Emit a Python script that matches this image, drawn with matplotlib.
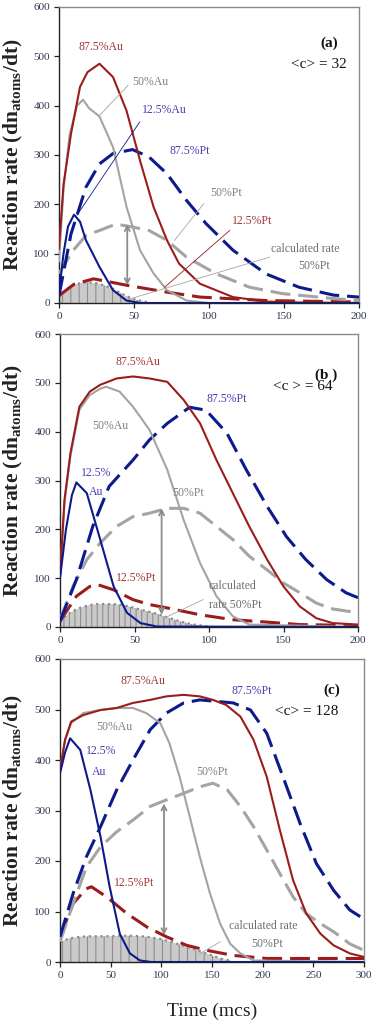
import matplotlib
matplotlib.use("Agg")
import matplotlib.pyplot as plt

plt.rcParams['font.family'] = ['Liberation Serif', 'DejaVu Serif']
plt.rcParams['hatch.linewidth'] = 0.8
plt.rcParams['mathtext.fontset'] = 'custom'
plt.rcParams['mathtext.rm'] = 'Liberation Serif'
plt.rcParams['mathtext.bf'] = 'Liberation Serif:bold'

# ---------------- panel (a) ----------------
a_au875_t = [0, 3, 8, 14, 19, 27, 36, 45, 54, 63, 72, 80, 94, 116, 138, 160, 200]
a_au875 = [110, 240, 343, 438, 468, 485, 458, 390, 289, 195, 127, 80, 39, 12, 3, 1, 0]
a_au50_t = [0, 3, 7, 12, 16, 20, 27, 36, 45, 54, 63, 72, 85, 100, 200]
a_au50 = [85, 230, 340, 400, 412, 395, 378, 316, 195, 107, 60, 26, 5, 0, 0]
a_au125_t = [0, 3, 6, 10, 14, 18, 27, 36, 45, 54, 200]
a_au125 = [20, 100, 155, 179, 165, 127, 73, 26, 5, 0, 0]
a_pt875_t = [0, 8, 18, 27, 36, 49, 60, 72, 85, 98, 116, 138, 160, 183, 200]
a_pt875 = [15, 140, 235, 282, 303, 311, 296, 262, 208, 161, 107, 59, 32, 16, 12]
a_pt50_t = [0, 9, 18, 27, 38, 49, 60, 72, 85, 105, 127, 149, 183, 200]
a_pt50 = [60, 105, 137, 147, 160, 154, 147, 127, 93, 59, 32, 19, 9, 5]
a_pt125_t = [0, 10, 23, 35, 45, 72, 94, 138, 200]
a_pt125 = [15, 38, 49, 42, 36, 22, 12, 5, 2]
a_calc_t = [0, 5, 10, 15, 20, 25, 30, 35, 40, 45, 50, 55, 60]
a_calc = [12, 28, 37, 41, 42, 40, 36, 30, 22, 14, 8, 4, 1]

# ---------------- panel (b) ----------------
b_au875_t = [0, 3, 7, 13, 20, 27, 38, 49, 60, 72, 83, 94, 105, 116, 127, 139, 150, 161, 172, 183, 200]
b_au875 = [104, 260, 356, 451, 482, 496, 509, 513, 509, 502, 465, 417, 342, 274, 206, 138, 83, 42, 18, 8, 5]
b_au50_t = [0, 3, 7, 13, 20, 27, 31, 40, 49, 60, 72, 83, 94, 105, 116, 127, 200]
b_au50 = [104, 255, 350, 445, 475, 488, 492, 482, 451, 404, 322, 219, 131, 63, 22, 5, 0]
b_au125_t = [0, 4, 8, 11, 18, 27, 36, 45, 54, 65, 200]
b_au125 = [100, 200, 270, 296, 274, 179, 83, 29, 8, 1, 0]
b_pt875_t = [0, 11, 22, 33, 49, 60, 72, 87, 98, 112, 125, 139, 152, 165, 179, 192, 200]
b_pt875 = [12, 97, 206, 288, 342, 383, 417, 450, 444, 397, 322, 247, 185, 138, 97, 70, 60]
b_pt50_t = [0, 9, 18, 27, 38, 49, 60, 72, 83, 94, 105, 116, 127, 139, 150, 161, 172, 183, 200]
b_pt50 = [15, 85, 138, 172, 206, 226, 233, 243, 243, 233, 206, 179, 145, 117, 90, 70, 49, 37, 29]
b_pt125_t = [0, 11, 20, 25, 36, 49, 60, 72, 94, 116, 139, 161, 200]
b_pt125 = [12, 63, 83, 87, 76, 56, 46, 39, 25, 15, 10, 5, 3]
b_calc_t = [0, 5, 10, 15, 20, 25, 30, 35, 40, 45, 50, 55, 60, 65, 70, 75, 80, 85, 90, 95, 100]
b_calc = [11, 26, 35, 41, 45, 47, 47, 47, 46, 43, 39, 35, 31, 27, 22, 17, 12, 8, 5, 3, 1]

# ---------------- panel (c) ----------------
c_au875_t = [0, 5, 11, 23, 40, 56, 72, 89, 105, 122, 138, 151, 164, 178, 191, 204, 217, 230, 243, 257, 270, 286, 300]
c_au875 = [380, 440, 476, 489, 499, 503, 513, 519, 526, 529, 526, 519, 509, 486, 440, 367, 261, 162, 96, 56, 33, 17, 10]
c_au50_t = [0, 5, 11, 23, 40, 56, 72, 85, 99, 108, 118, 128, 138, 148, 158, 168, 178, 191, 300]
c_au50 = [380, 440, 473, 493, 499, 503, 503, 493, 473, 433, 367, 288, 208, 136, 76, 36, 17, 3, 0]
c_au125_t = [0, 5, 10, 20, 30, 40, 49, 59, 69, 79, 90, 300]
c_au125 = [374, 415, 443, 420, 341, 248, 149, 56, 17, 3, 0, 0]
c_pt875_t = [0, 13, 26, 40, 56, 72, 89, 105, 122, 138, 155, 171, 188, 204, 220, 237, 253, 270, 286, 300]
c_pt875 = [50, 136, 208, 268, 341, 400, 460, 493, 513, 519, 516, 513, 499, 453, 367, 274, 195, 142, 103, 85]
c_pt50_t = [0, 13, 26, 40, 56, 72, 89, 105, 122, 138, 151, 165, 178, 191, 204, 217, 230, 243, 257, 270, 286, 300]
c_pt50 = [40, 116, 188, 228, 258, 281, 308, 321, 334, 347, 354, 341, 308, 268, 222, 175, 129, 96, 76, 60, 36, 23]
c_pt125_t = [0, 13, 26, 31, 46, 66, 86, 105, 125, 145, 171, 204, 300]
c_pt125 = [50, 116, 145, 149, 129, 96, 69, 50, 33, 23, 13, 7, 7]
c_calc_t = [0, 10, 20, 30, 40, 50, 60, 70, 80, 90, 100, 110, 120, 130, 140, 150, 160, 170]
c_calc = [40, 47, 50, 51, 51, 51, 52, 52, 51, 49, 45, 40, 33, 27, 20, 13, 6, 2]

y_ticks = [0, 100, 200, 300, 400, 500, 600]
x_ticks_ab = [0, 50, 100, 150, 200]
x_ticks_c = [0, 50, 100, 150, 200, 250, 300]

RED = '#9b1c1c'
BLUE = '#0c1a8c'
GRAY = '#a4a4a4'
RED_T = '#a33434'
BLUE_T = '#4b3bb0'
GRAY_T = '#808080'
TICK_C = '#2e3852'

fig = plt.figure(figsize=(3.74, 10.24), dpi=100)

W = 374.0
H = 1024.0


def make_ax(l, r, top, bot):
    return fig.add_axes([l / W, 1 - bot / H, (r - l) / W, (bot - top) / H])


axa = make_ax(59, 359, 7, 303)
axb = make_ax(60, 358, 334, 627)
axc = make_ax(60, 364, 659, 962)

DASH = (6.5, 2.6)


def draw(ax, d, xmax, xticks, hatch, left_px):
    (au875_t, au875, au50_t, au50, au125_t, au125,
     pt875_t, pt875, pt50_t, pt50, pt125_t, pt125, calc_t, calc) = d
    ax.fill_between(calc_t, 0, calc, facecolor='#cacaca', edgecolor='#8e8e8e',
                    hatch=hatch, linewidth=0, zorder=1)
    ax.plot(calc_t, calc, color='#8e8e8e', ls=':', lw=1.6, zorder=2)
    ax.plot(pt125_t, pt125, color=RED, lw=2.2, dashes=DASH, zorder=3)
    ax.plot(pt50_t, pt50, color=GRAY, lw=2.2, dashes=DASH, zorder=3)
    ax.plot(pt875_t, pt875, color=BLUE, lw=2.2, dashes=DASH, zorder=3)
    ax.plot(au50_t, au50, color=GRAY, lw=1.5, zorder=4)
    ax.plot(au875_t, au875, color=RED, lw=1.5, zorder=4)
    ax.plot(au125_t, au125, color=BLUE, lw=1.5, zorder=5)

    ax.set_xlim(0, xmax)
    ax.set_ylim(0, 600)
    ax.set_xticks(xticks)
    ax.set_yticks(y_ticks)
    ax.tick_params(axis='both', direction='out', length=3.5, width=0.9,
                   labelsize=8, labelcolor=TICK_C, color='#222222')
    ax.tick_params(axis='y', pad=3)
    ax.tick_params(axis='x', pad=3)
    for s in ['top', 'right']:
        ax.spines[s].set_color('#8a8a8a')
        ax.spines[s].set_linewidth(1.0)
    for s in ['left', 'bottom']:
        ax.spines[s].set_color('#222222')
        ax.spines[s].set_linewidth(1.0)
    ax.set_ylabel(r'Reaction rate (dn$_{\mathbf{atoms}}$/dt)', fontsize=15.5,
                  fontweight='bold', color='#222222', va='center')
    width_px = ax.get_position().width * W
    ax.yaxis.set_label_coords((13.5 - left_px) / width_px, 0.5)


draw(axa, (a_au875_t, a_au875, a_au50_t, a_au50, a_au125_t, a_au125,
           a_pt875_t, a_pt875, a_pt50_t, a_pt50, a_pt125_t, a_pt125,
           a_calc_t, a_calc), 200, x_ticks_ab, '||', 59)
draw(axb, (b_au875_t, b_au875, b_au50_t, b_au50, b_au125_t, b_au125,
           b_pt875_t, b_pt875, b_pt50_t, b_pt50, b_pt125_t, b_pt125,
           b_calc_t, b_calc), 200, x_ticks_ab, '|||', 60)
draw(axc, (c_au875_t, c_au875, c_au50_t, c_au50, c_au125_t, c_au125,
           c_pt875_t, c_pt875, c_pt50_t, c_pt50, c_pt125_t, c_pt125,
           c_calc_t, c_calc), 300, x_ticks_c, '||', 60)

axc.set_xlabel('Time (mcs)', fontsize=14, color='#222222', va='top')
axc.xaxis.set_label_coords(0.5, -0.135)

LFS = 8.5


def lab(ax, x, y, s, c, fs=LFS, **kw):
    ax.text(x, y, s, color=c, fontsize=fs, ha='center', va='center', zorder=6, **kw)


def leader(ax, x0, y0, x1, y1, c):
    ax.plot([x0, x1], [y0, y1], color=c, lw=0.6, zorder=6)


def arrow(ax, x, lo, hi):
    ax.annotate('', xy=(x, hi), xytext=(x, lo),
                arrowprops=dict(arrowstyle='<->', color='#8c8c8c', lw=1.3,
                                mutation_scale=9, shrinkA=0, shrinkB=0), zorder=6)


# panel (a) annotations
lab(axa, 28, 519, '87.5%Au', RED_T)
lab(axa, 61, 448, '50%Au', GRAY_T)
lab(axa, 70.4, 392, '12.5%Au', BLUE_T)
lab(axa, 87.3, 309, '87.5%Pt', BLUE_T)
lab(axa, 111.6, 223, '50%Pt', GRAY_T)
lab(axa, 129, 166, '12.5%Pt', RED_T)
lab(axa, 164, 110, 'calculated rate', '#6e6e6e')
lab(axa, 170, 75, '50%Pt', '#6e6e6e')
lab(axa, 180, 526, '(a)', '#111111', fs=11, fontweight='bold')
lab(axa, 173, 483, '<c> = 32', '#111111', fs=11)
leader(axa, 46, 441, 27, 380, GRAY)
leader(axa, 53.8, 367, 12, 178, BLUE)
leader(axa, 96.4, 201, 77, 127, GRAY)
leader(axa, 113.8, 147, 70.4, 32, RED)
leader(axa, 140.4, 93, 48, 9, GRAY)
arrow(axa, 45.5, 36, 160)

# panel (b) annotations
lab(axb, 52.5, 543, '87.5%Au', RED_T)
lab(axb, 178.8, 516, '(b )', '#111111', fs=11, fontweight='bold')
lab(axb, 163, 492, '<c > = 64', '#111111', fs=11)
lab(axb, 111.7, 467, '87.5%Pt', BLUE_T)
lab(axb, 33.5, 412, '50%Au', GRAY_T)
lab(axb, 24, 316, '12.5%', BLUE_T)
lab(axb, 24, 277, 'Au', BLUE_T)
lab(axb, 86, 274, '50%Pt', GRAY_T)
lab(axb, 51.4, 100, '12.5%Pt', RED_T)
lab(axb, 116, 84, 'calculated', '#6e6e6e')
lab(axb, 117.8, 46, 'rate 50%Pt', '#6e6e6e')
leader(axb, 96, 56, 72.6, 22, GRAY)
arrow(axb, 68.2, 25, 243)

# panel (c) annotations
lab(axc, 81.6, 556, '87.5%Au', RED_T)
lab(axc, 188.8, 536, '87.5%Pt', BLUE_T)
lab(axc, 268, 539, '(c)', '#111111', fs=11, fontweight='bold')
lab(axc, 243.4, 496, '<c> = 128', '#111111', fs=11)
lab(axc, 53.3, 466, '50%Au', GRAY_T)
lab(axc, 41, 417, '12.5%', BLUE_T)
lab(axc, 38.5, 377, 'Au', BLUE_T)
lab(axc, 149.7, 377, '50%Pt', GRAY_T)
lab(axc, 73.4, 157, '12.5%Pt', RED_T)
lab(axc, 200.7, 71, 'calculated rate', '#6e6e6e')
lab(axc, 204, 36, '50%Pt', '#6e6e6e')
leader(axc, 158, 40, 138, 16.5, GRAY)
arrow(axc, 102.6, 53, 314)

fig.savefig('out.png', dpi=100)
